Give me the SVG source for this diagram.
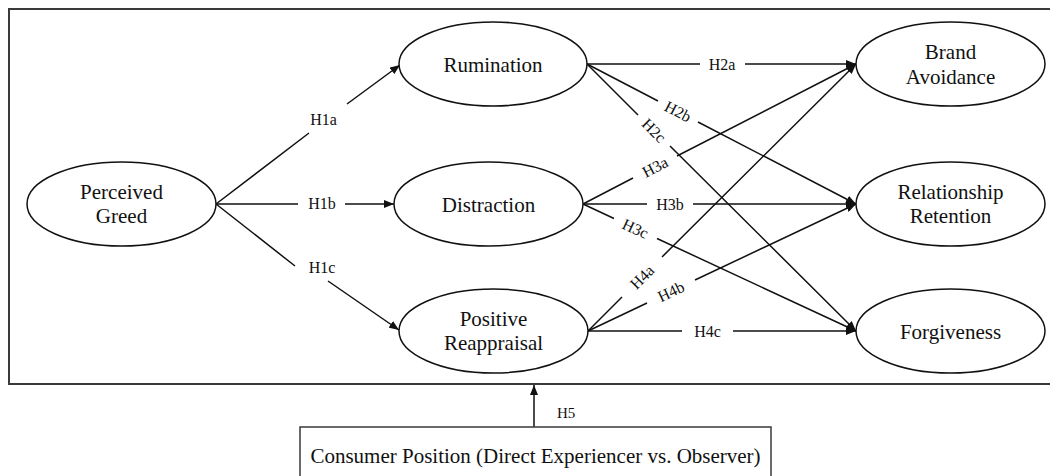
<svg xmlns="http://www.w3.org/2000/svg" width="1050" height="476" viewBox="0 0 1050 476">
<style>
.node{fill:#fff;stroke:#111;stroke-width:1.5}
.nt{font-family:"Liberation Serif","Times New Roman",serif;font-size:21px;fill:#111;text-anchor:middle}
.lbl{font-family:"Liberation Serif","Times New Roman",serif;font-size:16px;fill:#111;text-anchor:middle}
.edge{fill:none;stroke:#111;stroke-width:1.5}
.frame{fill:none;stroke:#3a3a3a;stroke-width:2}
</style>
<defs>
<marker id="arr" markerUnits="userSpaceOnUse" markerWidth="10" markerHeight="8" refX="10" refY="4" orient="auto">
<path d="M0,0 L10,4 L0,8 z" fill="#111"/>
</marker>
</defs>
<rect width="1050" height="476" fill="#fff"/>
<rect id="frame" class="frame" x="9" y="9" width="1050" height="375"/>

<g id="connectors">
<path class="edge" marker-end="url(#arr)" d="M216,204 L309,133 M347,104 L400,65"/>
<path class="edge" marker-end="url(#arr)" d="M216,204 L298,204 M345,204 L394,204"/>
<path class="edge" marker-end="url(#arr)" d="M216,204 L295,266 M328,281 L399,330"/>
<path class="edge" marker-end="url(#arr)" d="M587,64 L700,64 M745,64 L856,64"/>
<path class="edge" marker-end="url(#arr)" d="M587,64 L658,101 M698,122 L856,204"/>
<path class="edge" marker-end="url(#arr)" d="M587,64 L638,115 M670,146 L856,331"/>
<path class="edge" marker-end="url(#arr)" d="M583,204 L633,178 M677,156 L856,64"/>
<path class="edge" marker-end="url(#arr)" d="M583,204 L647,204 M693,204 L856,204"/>
<path class="edge" marker-end="url(#arr)" d="M583,204 L614,218.5 M657,238.5 L856,331"/>
<path class="edge" marker-end="url(#arr)" d="M588,331 L622,297 M662,257 L856,64"/>
<path class="edge" marker-end="url(#arr)" d="M588,331 L647,303 M695,280 L856,204"/>
<path class="edge" marker-end="url(#arr)" d="M588,331 L682,331 M733,331 L856,331"/>
<path class="edge" marker-end="url(#arr)" d="M534,427 L534,385"/>
<text class="lbl" x="323.5" y="124.5">H1a</text>
<text class="lbl" x="322" y="209">H1b</text>
<text class="lbl" x="322" y="273">H1c</text>
<text class="lbl" x="722" y="69.5">H2a</text>
<text class="lbl" transform="translate(678,111.5) rotate(27.5)" y="5.5">H2b</text>
<text class="lbl" transform="translate(654,130.5) rotate(44.8)" y="5.5">H2c</text>
<text class="lbl" transform="translate(655,167) rotate(-27.1)" y="5.5">H3a</text>
<text class="lbl" x="670" y="209.5">H3b</text>
<text class="lbl" transform="translate(635.5,228.5) rotate(24.9)" y="5.5">H3c</text>
<text class="lbl" transform="translate(642,277) rotate(-44.9)" y="5.5">H4a</text>
<text class="lbl" transform="translate(671,291.5) rotate(-25.4)" y="5.5">H4b</text>
<text class="lbl" x="707.5" y="336.5">H4c</text>
<text class="lbl" x="557" y="418" style="text-anchor:start;font-size:15px">H5</text>
</g>

<g id="perceived-greed">
<ellipse class="node" cx="121.5" cy="204" rx="94.5" ry="42"/>
<text class="nt" x="121.5" y="198.5">Perceived</text>
<text class="nt" x="121.5" y="223">Greed</text>
</g>
<g id="rumination">
<ellipse class="node" cx="493" cy="64" rx="94" ry="42"/>
<text class="nt" x="493" y="71.5">Rumination</text>
</g>
<g id="distraction">
<ellipse class="node" cx="488.5" cy="204" rx="94.5" ry="42"/>
<text class="nt" x="488.5" y="211.5">Distraction</text>
</g>
<g id="positive-reappraisal">
<ellipse class="node" cx="493.5" cy="331" rx="94.5" ry="42"/>
<text class="nt" x="493.5" y="325.5">Positive</text>
<text class="nt" x="493.5" y="350">Reappraisal</text>
</g>
<g id="brand-avoidance">
<ellipse class="node" cx="950.5" cy="64" rx="94.5" ry="42"/>
<text class="nt" x="950.5" y="59">Brand</text>
<text class="nt" x="950.5" y="83.5">Avoidance</text>
</g>
<g id="relationship-retention">
<ellipse class="node" cx="950.5" cy="204" rx="94.5" ry="42"/>
<text class="nt" x="950.5" y="198.5">Relationship</text>
<text class="nt" x="950.5" y="223">Retention</text>
</g>
<g id="forgiveness">
<ellipse class="node" cx="950.5" cy="331" rx="94.5" ry="42"/>
<text class="nt" x="950.5" y="338.5">Forgiveness</text>
</g>
<g id="consumer-position">
<rect class="frame" x="300" y="427" width="471" height="60" style="stroke-width:1.5"/>
<text class="nt" x="535.5" y="463">Consumer Position (Direct Experiencer vs. Observer)</text>
</g>
</svg>
